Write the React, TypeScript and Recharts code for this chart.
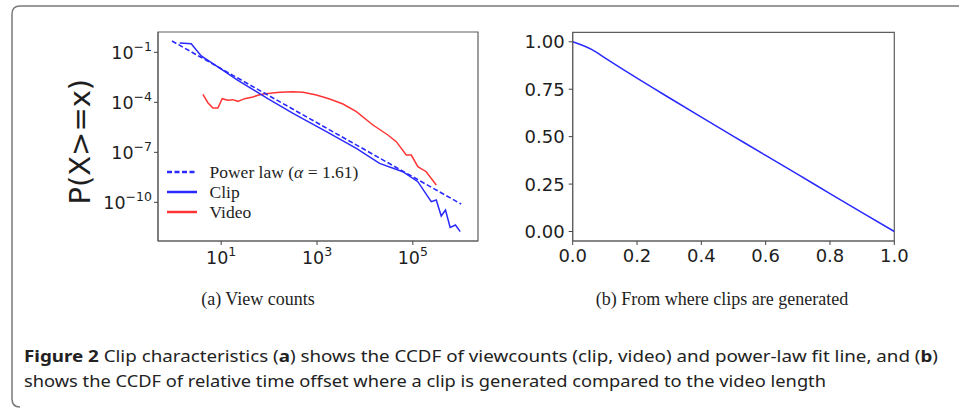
import React from "react";
import { LineChart, Line, XAxis, YAxis, ReferenceArea, Legend } from "recharts";

// (a) view counts, CCDF on log-log axes
const clipViews = [1.36, 2.37, 3.83, 8.53, 22.3, 94, 316, 1570, 6620, 20200, 61700, 127000, 242000, 308000, 391000, 480000, 601000, 776000, 973000];
const clipCcdf = [0.363, 0.331, 0.0603, 0.0132, 2.09e-3, 1.66e-4, 2.19e-5, 1.74e-6, 1.74e-7, 2.19e-8, 6.9e-9, 1.74e-9, 1.1e-10, 1.38e-10, 1.51e-11, 3.47e-11, 3.16e-12, 4.37e-12, 1.74e-12];

const videoViews = [4.16, 5.28, 6.71, 8.53, 10.5, 13.8, 17.5, 22.3, 30.8, 45.7, 58.2, 80.2, 103.5, 167, 316, 511, 973, 1840, 3480, 6620, 14700, 30100, 45100, 72900, 92700, 127000, 190000, 308000];
const videoCcdf = [3.02e-4, 9.55e-5, 4.57e-5, 4.57e-5, 1.66e-4, 1.32e-4, 1.45e-4, 1.15e-4, 1.66e-4, 2.09e-4, 2.63e-4, 3.31e-4, 3.47e-4, 3.98e-4, 4.37e-4, 3.98e-4, 2.75e-4, 1.58e-4, 7.94e-5, 2.75e-5, 4.37e-6, 1.1e-6, 4.37e-7, 6.9e-8, 6.9e-8, 1.38e-8, 6.9e-9, 1.1e-9];

const powerLawViews = [0.94, 1.02e6];
const powerLawCcdf = [0.48, 7.9e-11];
const powerLawAlpha = 1.61;

const viewTicks = [10, 1000, 100000];
const ccdfTicks = [1e-1, 1e-4, 1e-7, 1e-10];

// (b) relative offset in the video where clips are generated
const offsetX = [0, 0.03, 0.06, 0.1, 0.15, 0.2, 0.3, 0.4, 0.5, 0.6, 0.7, 0.8, 0.9, 1.0];
const offsetCcdf = [1.0, 0.982, 0.959, 0.915, 0.861, 0.808, 0.705, 0.603, 0.502, 0.401, 0.301, 0.2, 0.1, 0.0];
const offsetTicks = [0, 0.2, 0.4, 0.6, 0.8, 1.0];
const offsetCcdfTicks = [0, 0.25, 0.5, 0.75, 1.0];

const BLUE = "#2a2aff";
const RED = "#ff3535";
const TEXT = "#1e1e1e";
const SPINE = "#5e5e5e";

const zip = (xs: number[], ys: number[]) => xs.map((x, i) => ({ x, y: ys[i] }));
const clipData = zip(clipViews, clipCcdf);
const videoData = zip(videoViews, videoCcdf);
const powerLawData = zip(powerLawViews, powerLawCcdf);
const offsetData = zip(offsetX, offsetCcdf);

const expLabel = (v: number) => {
  const e = Math.round(Math.log10(v));
  return e < 0 ? "\u2212" + Math.abs(e) : String(e);
};

const LogTickX = (props: any) => {
  const { x, y, payload } = props;
  return (
    <text x={x} y={y + 19} textAnchor="middle" fill={TEXT} fontSize={17.5} fontFamily="DejaVu Sans">
      <tspan>10</tspan>
      <tspan dy={-8.5} fontSize={12.5}>{expLabel(payload.value)}</tspan>
    </text>
  );
};

const LogTickY = (props: any) => {
  const { x, y, payload } = props;
  return (
    <text x={x} y={y + 7} textAnchor="end" fill={TEXT} fontSize={17.5} fontFamily="DejaVu Sans">
      <tspan>10</tspan>
      <tspan dy={-8} fontSize={12.5}>{expLabel(payload.value)}</tspan>
    </text>
  );
};

const LinTickX = (props: any) => {
  const { x, y, payload } = props;
  return (
    <text x={x} y={y + 16.5} textAnchor="middle" fill={TEXT} fontSize={18} fontFamily="DejaVu Sans">
      {payload.value.toFixed(1)}
    </text>
  );
};

const LinTickY = (props: any) => {
  const { x, y, payload } = props;
  return (
    <text x={x} y={y + 6.5} textAnchor="end" fill={TEXT} fontSize={18} fontFamily="DejaVu Sans">
      {payload.value.toFixed(2)}
    </text>
  );
};

const legendRows = [
  { key: "power", color: BLUE, dash: "5 2.5" },
  { key: "clip", color: BLUE, dash: undefined },
  { key: "video", color: RED, dash: undefined },
];

const ViewLegend = () => (
  <div style={{ fontFamily: "Liberation Serif", fontSize: 17.5, color: TEXT, lineHeight: "20px", whiteSpace: "nowrap" }}>
    {legendRows.map((r) => (
      <div key={r.key} style={{ display: "flex", alignItems: "center", height: 20 }}>
        <svg width={30} height={20} style={{ marginRight: 13 }}>
          <line x1={0} y1={10} x2={30} y2={10} stroke={r.color} strokeWidth={2.5} strokeDasharray={r.dash} />
        </svg>
        {r.key === "power" ? (
          <span>
            Power law (<i>α</i> = {powerLawAlpha})
          </span>
        ) : r.key === "clip" ? (
          <span>Clip</span>
        ) : (
          <span>Video</span>
        )}
      </div>
    ))}
  </div>
);

const ViewCountChart = () => (
  <LineChart width={500} height={280} margin={{ top: 32, right: 22, bottom: 9, left: 98 }}>
    <XAxis
      dataKey="x"
      type="number"
      scale="log"
      domain={[0.48, 2.29e6]}
      allowDataOverflow
      ticks={viewTicks}
      interval={0}
      tick={<LogTickX />}
      tickSize={4}
      tickMargin={0}
      height={30}
      axisLine={{ stroke: SPINE }}
      tickLine={{ stroke: "#444" }}
    />
    <YAxis
      type="number"
      scale="log"
      domain={[4.8e-13, 1.66]}
      allowDataOverflow
      ticks={ccdfTicks}
      interval={0}
      tick={<LogTickY />}
      tickSize={4}
      tickMargin={2}
      width={60}
      axisLine={{ stroke: SPINE }}
      tickLine={{ stroke: "#444" }}
    />
    <ReferenceArea x1={0.48} x2={2.29e6} y1={4.8e-13} y2={1.66} fill="none" stroke={SPINE} strokeWidth={1.2} ifOverflow="visible" />
    <Line data={videoData} dataKey="y" stroke={RED} strokeWidth={1.5} dot={false} activeDot={false} isAnimationActive={false} />
    <Line data={clipData} dataKey="y" stroke={BLUE} strokeWidth={1.5} dot={false} activeDot={false} isAnimationActive={false} />
    <Line data={powerLawData} dataKey="y" stroke={BLUE} strokeWidth={1.6} strokeDasharray="5 2.5" dot={false} activeDot={false} isAnimationActive={false} />
    <Legend
      layout="horizontal"
      verticalAlign="middle"
      align="center"
      content={() => <ViewLegend />}
      wrapperStyle={{ left: 166.5, top: 162.3, width: "auto" }}
    />
  </LineChart>
);

const OffsetChart = () => (
  <LineChart width={440} height={280} margin={{ top: 32.3, right: 25.7, bottom: 9, left: 32.7 }}>
    <XAxis
      dataKey="x"
      type="number"
      domain={[0, 1]}
      allowDataOverflow
      ticks={offsetTicks}
      interval={0}
      tick={<LinTickX />}
      tickSize={4}
      tickMargin={0}
      height={30}
      axisLine={{ stroke: SPINE }}
      tickLine={{ stroke: "#444" }}
    />
    <YAxis
      type="number"
      domain={[-0.05, 1.05]}
      allowDataOverflow
      ticks={offsetCcdfTicks}
      interval={0}
      tick={<LinTickY />}
      tickSize={4}
      tickMargin={4}
      width={60}
      axisLine={{ stroke: SPINE }}
      tickLine={{ stroke: "#444" }}
    />
    <ReferenceArea x1={0} x2={1} y1={-0.05} y2={1.05} fill="none" stroke={SPINE} strokeWidth={1.2} ifOverflow="visible" />
    <Line type="monotone" data={offsetData} dataKey="y" stroke={BLUE} strokeWidth={1.5} dot={false} activeDot={false} isAnimationActive={false} />
  </LineChart>
);

export default function App() {
  return (
    <div style={{ position: "absolute", left: 0, top: 0, width: 959, height: 408, background: "#fff", overflow: "hidden" }}>
      <div style={{ position: "absolute", left: 0, top: 0 }}>
        <ViewCountChart />
      </div>
      <div style={{ position: "absolute", left: 480, top: 0 }}>
        <OffsetChart />
      </div>
      <svg width={959} height={408} style={{ position: "absolute", left: 0, top: 0, pointerEvents: "none" }}>
        <path d="M 20 407 Q 12 407 12 399 L 12 14 Q 12 6 20 6 L 965 6" fill="none" stroke="#7a7a7a" strokeWidth={1.5} />
        <text x={80} y={141.7} transform="rotate(-90 80 141.7)" textAnchor="middle" dominantBaseline="central" fill={TEXT} fontSize={29} fontFamily="DejaVu Sans">
          P(X&gt;=x)
        </text>
        <text x={258} y={305} textAnchor="middle" fill={TEXT} fontSize={18} fontFamily="Liberation Serif">
          (a) View counts
        </text>
        <text x={722} y={305} textAnchor="middle" fill={TEXT} fontSize={18} fontFamily="Liberation Serif">
          (b) From where clips are generated
        </text>
        <text x={24} y={362} fill="#222" fontSize={15.5} fontFamily="Noto Sans" textLength={914} lengthAdjust="spacingAndGlyphs">
          <tspan fontWeight="bold">Figure 2</tspan>
          <tspan>{"  Clip characteristics ("}</tspan>
          <tspan fontWeight="bold">a</tspan>
          <tspan>) shows the CCDF of viewcounts (clip, video) and power-law fit line, and (</tspan>
          <tspan fontWeight="bold">b</tspan>
          <tspan>)</tspan>
        </text>
        <text x={24} y={387} fill="#222" fontSize={15.5} fontFamily="Noto Sans" textLength={802} lengthAdjust="spacingAndGlyphs">
          shows the CCDF of relative time offset where a clip is generated compared to the video length
        </text>
      </svg>
    </div>
  );
}
